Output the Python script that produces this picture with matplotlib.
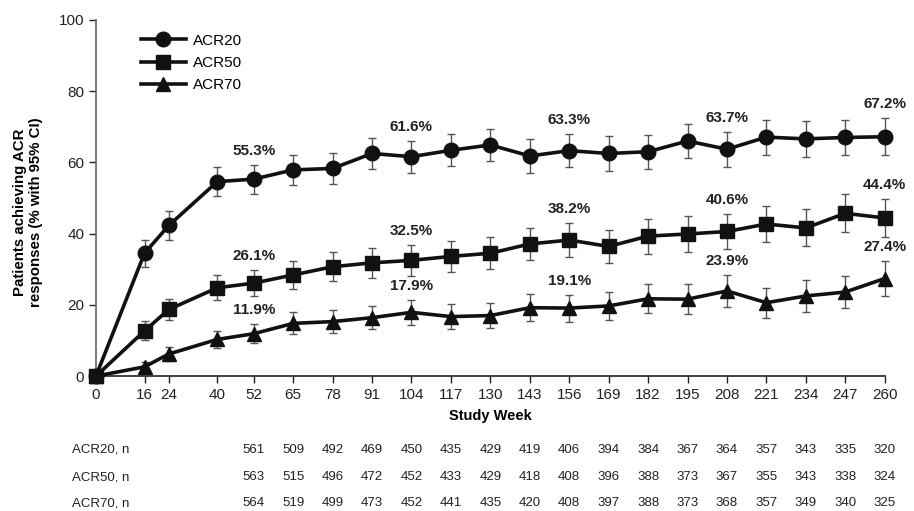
import matplotlib
matplotlib.use("Agg")
import matplotlib.pyplot as plt

plt.rcParams["font.family"] = ["Liberation Sans", "DejaVu Sans"]

weeks = [0, 16, 24, 40, 52, 65, 78, 91, 104, 117, 130, 143, 156, 169, 182,
         195, 208, 221, 234, 247, 260]

acr20 = [0, 34.5, 42.3, 54.6, 55.3, 57.9, 58.3, 62.5, 61.6, 63.4, 64.9, 61.8,
         63.3, 62.5, 63.0, 66.0, 63.7, 67.1, 66.6, 67.0, 67.2]
acr50 = [0, 12.7, 18.7, 24.8, 26.1, 28.4, 30.7, 31.8, 32.5, 33.6, 34.5, 37.1,
         38.2, 36.4, 39.3, 39.9, 40.6, 42.7, 41.6, 45.7, 44.4]
acr70 = [0, 2.6, 6.2, 10.3, 11.9, 14.8, 15.3, 16.4, 17.9, 16.7, 17.0, 19.2,
         19.1, 19.7, 21.7, 21.6, 23.9, 20.6, 22.5, 23.6, 27.4]

# half widths of the 95% CI
ci20 = [0, 3.8, 4.0, 4.0, 4.1, 4.3, 4.4, 4.4, 4.5, 4.5, 4.5, 4.7, 4.7, 4.8,
        4.8, 4.8, 4.9, 4.9, 5.0, 5.0, 5.2]
ci50 = [0, 2.7, 3.0, 3.5, 3.6, 3.9, 4.1, 4.2, 4.3, 4.4, 4.5, 4.6, 4.7, 4.7,
        4.9, 5.0, 5.0, 5.1, 5.2, 5.3, 5.4]
ci70 = [0, 1.4, 1.9, 2.4, 2.7, 3.1, 3.2, 3.3, 3.5, 3.5, 3.5, 3.8, 3.8, 3.9,
        4.1, 4.2, 4.4, 4.2, 4.4, 4.5, 4.8]

labelled_weeks = [52, 104, 156, 208, 260]

table_weeks = [52, 65, 78, 91, 104, 117, 130, 143, 156, 169, 182, 195, 208,
               221, 234, 247, 260]
n20 = [561, 509, 492, 469, 450, 435, 429, 419, 406, 394, 384, 367, 364, 357,
       343, 335, 320]
n50 = [563, 515, 496, 472, 452, 433, 429, 418, 408, 396, 388, 373, 367, 355,
       343, 338, 324]
n70 = [564, 519, 499, 473, 452, 441, 435, 420, 408, 397, 388, 373, 368, 357,
       349, 340, 325]

fig = plt.figure(figsize=(9.14, 5.11), dpi=100)
ax = fig.add_axes([0.105, 0.264, 0.863, 0.697])

series = [
    ("ACR20", acr20, ci20, "o", 10.5, n20),
    ("ACR50", acr50, ci50, "s", 9.5, n50),
    ("ACR70", acr70, ci70, "^", 10.5, n70),
]

handles = []
for name, vals, ci, mk, ms, _ in series:
    cont = ax.errorbar(weeks, vals, yerr=ci, color="#111111",
                       ecolor="#555555", elinewidth=1.0, capsize=3,
                       capthick=1.0, marker=mk, markersize=ms, linewidth=2.6,
                       label=name, clip_on=False, zorder=3)
    handles.append(cont.lines[0])
    for w in labelled_weeks:
        i = weeks.index(w)
        ax.annotate(f"{vals[i]:.1f}%", xy=(w, vals[i] + ci[i]),
                    xytext=(0, 5), textcoords="offset points",
                    ha="center", va="bottom", fontsize=11, fontweight="bold",
                    color="#222222")

ax.set_xlim(0, 260)
ax.set_ylim(0, 100)
ax.set_xticks(weeks)
ax.set_xticklabels([str(w) for w in weeks])
ax.set_yticks([0, 20, 40, 60, 80, 100])
ax.tick_params(axis="both", labelsize=11, direction="out", length=5,
               width=1, colors="#222222")
ax.spines["top"].set_visible(False)
ax.spines["right"].set_visible(False)
ax.spines["left"].set_color("#666666")
ax.spines["bottom"].set_color("#222222")
ax.spines["left"].set_linewidth(1.2)
ax.spines["bottom"].set_linewidth(1.2)

ax.set_xlabel("Study Week", fontsize=10.5, fontweight="bold", labelpad=5)
ax.set_ylabel("Patients achieving ACR\nresponses (% with 95% CI)",
              fontsize=10.8, fontweight="bold")
ax.yaxis.set_label_coords(-0.067, 0.46)

ax.legend(handles, [s[0] for s in series], loc="upper left",
          bbox_to_anchor=(0.04, 1.0), frameon=False, fontsize=11,
          handlelength=2.9, handletextpad=0.5, labelspacing=0.55)

# patient counts beneath the axis
row_y = [450, 477, 503]
for (name, _, _, _, _, counts), y in zip(series, row_y):
    yf = 1 - y / 511
    fig.text(72 / 914, yf, f"{name}, n", fontsize=9.5, va="center",
             ha="left", color="#222222")
    for w, n in zip(table_weeks, counts):
        xf, _ = fig.transFigure.inverted().transform(
            ax.transData.transform((w, 0)))
        fig.text(xf, yf, str(n), fontsize=9.5, va="center", ha="center",
                 color="#222222")

fig.savefig("out.png", dpi=100)
